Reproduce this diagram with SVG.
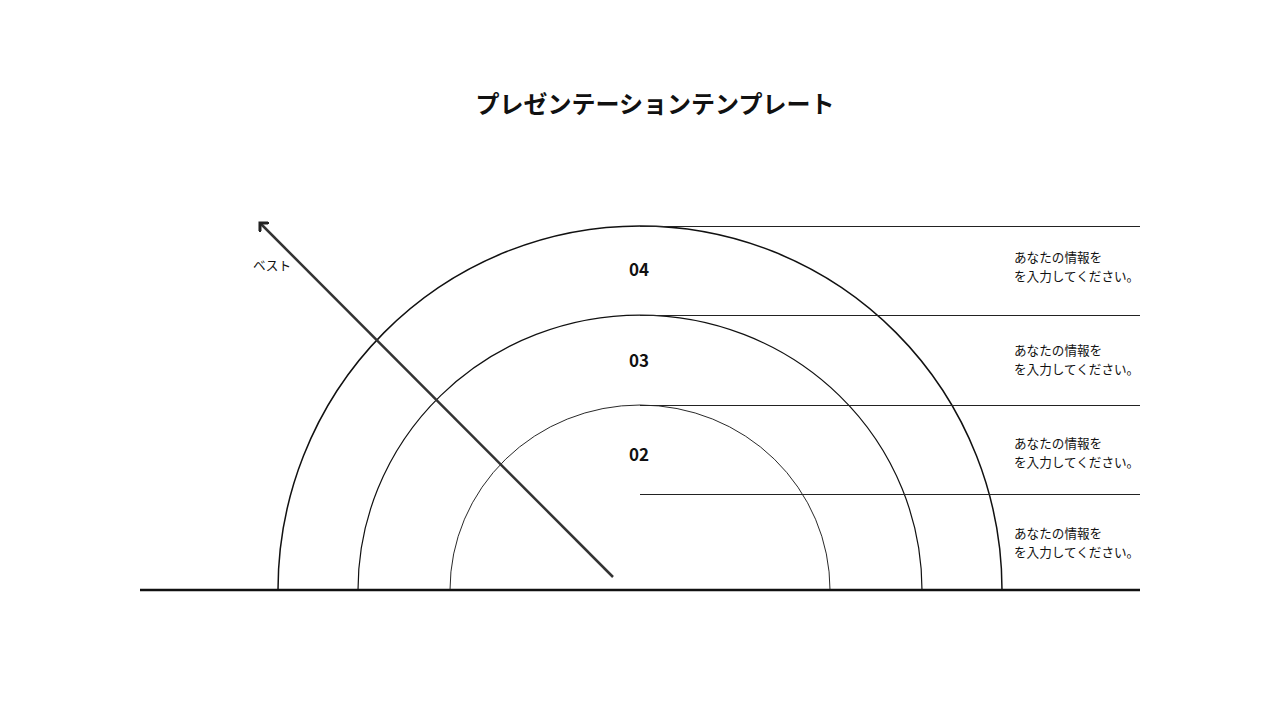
<svg xmlns="http://www.w3.org/2000/svg" width="1280" height="720" viewBox="0 0 1280 720">
<style>
.t{font-family:"Noto Sans CJK JP","Noto Sans",sans-serif;fill:#111}
.lbl{font-size:17px;font-weight:bold;text-anchor:middle}
.info{font-size:12.6px}
.arc{fill:none;stroke:#111}
.hl{stroke:#222;stroke-width:1}
</style>
<defs>
<marker id="ah" markerWidth="14" markerHeight="14" refX="6" refY="6" orient="auto" markerUnits="userSpaceOnUse" viewBox="0 0 12 12">
<path d="M0,0 L6,6 L0,12" fill="none" stroke="#222" stroke-width="2.6"/>
</marker>
</defs>
<rect width="1280" height="720" fill="#fff"/>
<text class="t" x="655" y="113" font-size="24" font-weight="bold" text-anchor="middle">プレゼンテーションテンプレート</text>
<g id="ring4"><path class="arc" stroke-width="1.5" d="M278,590 A362,364 0 0 1 1002,590"/><text class="t lbl" x="639" y="276">04</text></g>
<g id="ring3"><path class="arc" stroke-width="1.2" d="M358,590 A282,275 0 0 1 922,590"/><text class="t lbl" x="639" y="367">03</text></g>
<g id="ring2"><path class="arc" stroke-width="0.9" d="M450,590 A190,185 0 0 1 830,590"/><text class="t lbl" x="639" y="461">02</text></g>
<g id="lines">
<line class="hl" x1="640" y1="226.5" x2="1140" y2="226.5"/>
<line class="hl" x1="640" y1="315.5" x2="1140" y2="315.5"/>
<line class="hl" x1="640" y1="405.5" x2="1140" y2="405.5"/>
<line class="hl" x1="640" y1="494.5" x2="1140" y2="494.5"/>
<line x1="140" y1="590" x2="1140" y2="590" stroke="#111" stroke-width="2.5"/>
</g>
<g id="connectors">
<line x1="613" y1="577" x2="260" y2="223" stroke="#333" stroke-width="2.5" marker-end="url(#ah)"/>
</g>
<g id="best"><text class="t" x="253" y="270" font-size="12.6">ベスト</text></g>
<g id="info4"><text class="t info" x="1014" y="262">あなたの情報を</text><text class="t info" x="1014" y="281">を入力してください。</text></g>
<g id="info3"><text class="t info" x="1014" y="355">あなたの情報を</text><text class="t info" x="1014" y="374">を入力してください。</text></g>
<g id="info2"><text class="t info" x="1014" y="448">あなたの情報を</text><text class="t info" x="1014" y="467">を入力してください。</text></g>
<g id="info1"><text class="t info" x="1014" y="538">あなたの情報を</text><text class="t info" x="1014" y="557">を入力してください。</text></g>
</svg>
